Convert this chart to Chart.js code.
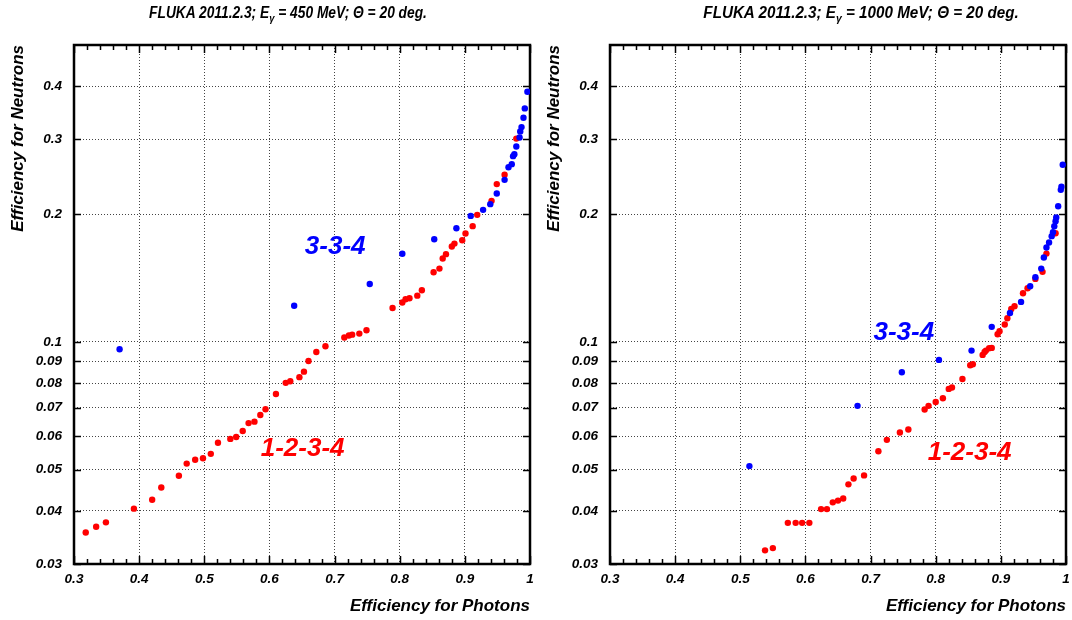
<!DOCTYPE html>
<html>
<head>
<meta charset="utf-8">
<script src="https://cdn.jsdelivr.net/npm/chart.js@4.4.0/dist/chart.umd.min.js"></script>
<style>
  html, body { margin: 0; padding: 0; background: #fff; }
  #wrap { position: relative; width: 1072px; height: 620px; overflow: hidden; }
  .panel { position: absolute; top: 0; width: 536px; height: 620px; }
  .title {
    position: absolute; top: 4px; white-space: nowrap;
    font: italic bold 16px "Liberation Sans", Arial, sans-serif;
    transform: translateX(-50%) scaleX(0.86);
    transform-origin: 50% 50%;
  }
  .title sub { font-size: 11px; vertical-align: -4px; line-height: 0; }
</style>
</head>
<body>
<div id="wrap">
  <div class="panel" style="left:0"><canvas id="chart450" width="536" height="620"></canvas></div>
  <div class="panel" style="left:536px"><canvas id="chart1000" width="536" height="620"></canvas></div>
  <div class="title" style="left:288px">FLUKA 2011.2.3; E<sub>&gamma;</sub> = 450 MeV; &Theta; = 20 deg.</div>
  <div class="title" style="left:861px; transform: translateX(-50%) scaleX(0.95)">FLUKA 2011.2.3; E<sub>&gamma;</sub> = 1000 MeV; &Theta; = 20 deg.</div>
</div>
<script>
// axis ticks
const xTicks = [0.3, 0.4, 0.5, 0.6, 0.7, 0.8, 0.9, 1.0];
const xTickLabels = ['0.3', '0.4', '0.5', '0.6', '0.7', '0.8', '0.9', '1'];
const yTicks = [0.03, 0.04, 0.05, 0.06, 0.07, 0.08, 0.09, 0.1, 0.2, 0.3, 0.4];
const yTickLabels = ['0.03', '0.04', '0.05', '0.06', '0.07', '0.08', '0.09', '0.1', '0.2', '0.3', '0.4'];

// E = 450 MeV, 1-2-3-4 (red)
const photons450_1234 = [0.318,0.334,0.349,0.392,0.420,0.434,0.461,0.473,0.486,0.498,0.510,0.521,0.540,0.549,0.559,0.568,0.577,0.586,0.594,0.610,0.625,0.632,0.646,0.653,0.660,0.672,0.686,0.715,0.722,0.727,0.738,0.749,0.789,0.804,0.809,0.815,0.827,0.834,0.852,0.861,0.866,0.871,0.880,0.884,0.896,0.901,0.912,0.919,0.941,0.949,0.961,0.979];
const neutrons450_1234 = [0.0356,0.0367,0.0376,0.0405,0.0425,0.0454,0.0484,0.0517,0.0528,0.0532,0.0545,0.0579,0.0591,0.0597,0.0617,0.0644,0.0649,0.0673,0.0694,0.0754,0.0801,0.0808,0.0826,0.0851,0.0902,0.0947,0.0977,0.1024,0.1035,0.1040,0.1046,0.1065,0.1202,0.1238,0.1260,0.1267,0.1285,0.1323,0.1459,0.1488,0.1571,0.1609,0.1677,0.1704,0.1735,0.1799,0.1873,0.1991,0.2148,0.2352,0.2474,0.301];

// E = 450 MeV, 3-3-4 (blue)
const photons450_334 = [0.370,0.638,0.754,0.804,0.853,0.887,0.909,0.928,0.939,0.949,0.961,0.967,0.972,0.974,0.976,0.979,0.984,0.985,0.987,0.990,0.992,0.996];
const neutrons450_334 = [0.0961,0.1216,0.1369,0.1612,0.1745,0.1852,0.1980,0.2046,0.2110,0.2235,0.2407,0.2578,0.2621,0.2737,0.2767,0.2884,0.3028,0.3130,0.3204,0.3370,0.3546,0.388];

// E = 1000 MeV, 1-2-3-4 (red)
const photons1000_1234 = [0.538,0.550,0.573,0.585,0.595,0.606,0.624,0.633,0.642,0.650,0.658,0.666,0.674,0.690,0.712,0.725,0.745,0.758,0.783,0.789,0.800,0.811,0.820,0.825,0.841,0.853,0.857,0.872,0.875,0.877,0.882,0.886,0.895,0.898,0.906,0.910,0.916,0.921,0.934,0.941,0.953,0.964,0.970,0.984];
const neutrons1000_1234 = [0.0323,0.0327,0.0375,0.0375,0.0375,0.0375,0.0404,0.0404,0.0419,0.0423,0.0428,0.0462,0.0477,0.0485,0.0553,0.0588,0.0612,0.0622,0.0693,0.0707,0.0722,0.0737,0.0775,0.0781,0.0818,0.0881,0.0886,0.0932,0.0947,0.0954,0.0966,0.0968,0.1042,0.1060,0.1099,0.1137,0.1196,0.1214,0.1302,0.1338,0.1407,0.1462,0.1614,0.1802];

// E = 1000 MeV, 3-3-4 (blue)
const photons1000_334 = [0.514,0.680,0.748,0.805,0.855,0.886,0.914,0.931,0.945,0.953,0.962,0.966,0.970,0.974,0.978,0.980,0.982,0.984,0.985,0.988,0.992,0.993,0.995];
const neutrons1000_334 = [0.0510,0.0707,0.0848,0.0907,0.0954,0.1085,0.1170,0.1242,0.1352,0.1420,0.1488,0.1580,0.1668,0.1714,0.1774,0.1812,0.1873,0.1924,0.1962,0.2087,0.2280,0.2320,0.2612];

// where the configuration names sit (data coords)
const labels450 = [
  { text: '3-3-4', x: 0.701, y: 0.1676, color: '#0000ff' },
  { text: '1-2-3-4', x: 0.651, y: 0.0561, color: '#ff0000' }
];
const labels1000 = [
  { text: '3-3-4', x: 0.751, y: 0.1052, color: '#0000ff' },
  { text: '1-2-3-4', x: 0.852, y: 0.0547, color: '#ff0000' }
];

Chart.defaults.font.family = '"Liberation Sans", Arial, Helvetica, sans-serif';
Chart.defaults.color = '#000';

const tickFont = { size: 13.5, weight: 'bold', style: 'italic' };
const titleFont = { size: 17, weight: 'bold', style: 'italic' };

const toPoints = (xs, ys) => xs.map((x, i) => ({ x: x, y: ys[i] }));

// frame + inward tick marks, gnuplot style
const framePlugin = {
  id: 'frame',
  beforeDatasetsDraw(chart) {
    const { ctx, chartArea: a, scales } = chart;
    ctx.save();
    ctx.strokeStyle = '#000';
    ctx.lineWidth = 1.5;
    ctx.beginPath();
    for (let v = 0.3; v < 1.0001; v += 0.02) {
      const px = Math.round(scales.x.getPixelForValue(v)) + 0.5;
      const major = Math.abs(v * 10 - Math.round(v * 10)) < 1e-6;
      const len = major ? 8 : 5;
      ctx.moveTo(px, a.bottom); ctx.lineTo(px, a.bottom - len);
      ctx.moveTo(px, a.top); ctx.lineTo(px, a.top + len);
    }
    yTicks.forEach(v => {
      const py = Math.round(scales.y.getPixelForValue(v)) + 0.5;
      ctx.moveTo(a.left, py); ctx.lineTo(a.left + 7, py);
      ctx.moveTo(a.right, py); ctx.lineTo(a.right - 7, py);
    });
    ctx.stroke();
    ctx.lineWidth = 2.5;
    ctx.strokeRect(a.left, a.top, a.right - a.left, a.bottom - a.top);
    ctx.restore();
  }
};

const namesPlugin = {
  id: 'names',
  afterDatasetsDraw(chart, args, opts) {
    const { ctx, scales } = chart;
    ctx.save();
    ctx.font = 'italic bold 26px "Liberation Sans", Arial, sans-serif';
    ctx.textAlign = 'center';
    ctx.textBaseline = 'middle';
    opts.items.forEach(l => {
      ctx.fillStyle = l.color;
      ctx.fillText(l.text, scales.x.getPixelForValue(l.x), scales.y.getPixelForValue(l.y));
    });
    ctx.restore();
  }
};

function makePanel(id, redX, redY, blueX, blueY, names) {
  return new Chart(document.getElementById(id), {
    type: 'scatter',
    data: {
      datasets: [
        {
          label: '3-3-4',
          data: toPoints(blueX, blueY),
          backgroundColor: '#0000ff',
          borderWidth: 0,
          pointRadius: 3.2
        },
        {
          label: '1-2-3-4',
          data: toPoints(redX, redY),
          backgroundColor: '#ff0000',
          borderWidth: 0,
          pointRadius: 3.2
        }
      ]
    },
    options: {
      responsive: false,
      animation: false,
      layout: { padding: { top: 45, right: 6, left: 0, bottom: 0 } },
      plugins: {
        legend: { display: false },
        tooltip: { enabled: false },
        names: { items: names }
      },
      scales: {
        x: {
          type: 'linear',
          min: 0.3,
          max: 1.0,
          afterBuildTicks: s => { s.ticks = xTicks.map(v => ({ value: v })); },
          afterFit: s => { s.height = 56; s.paddingLeft = 0; s.paddingRight = 0; },
          ticks: {
            font: tickFont,
            padding: 7,
            maxRotation: 0,
            callback: (v, i) => xTickLabels[i]
          },
          grid: { color: '#444', lineWidth: 1, drawTicks: false },
          border: { display: false, dash: [1, 2] },
          title: {
            display: true,
            text: 'Efficiency for Photons',
            align: 'end',
            font: titleFont,
            padding: { top: 0, bottom: 3 }
          }
        },
        y: {
          type: 'logarithmic',
          min: 0.03,
          max: 0.5,
          afterBuildTicks: s => { s.ticks = yTicks.map(v => ({ value: v })); },
          afterFit: s => { s.width = 74; s.paddingTop = 0; s.paddingBottom = 0; },
          ticks: {
            font: tickFont,
            padding: 12,
            callback: (v, i) => yTickLabels[i]
          },
          grid: { color: '#444', lineWidth: 1, drawTicks: false },
          border: { display: false, dash: [1, 2] },
          title: {
            display: true,
            text: 'Efficiency for Neutrons',
            align: 'end',
            font: titleFont,
            padding: { top: 8, bottom: 0 }
          }
        }
      }
    },
    plugins: [framePlugin, namesPlugin]
  });
}

makePanel('chart450', photons450_1234, neutrons450_1234, photons450_334, neutrons450_334, labels450);
makePanel('chart1000', photons1000_1234, neutrons1000_1234, photons1000_334, neutrons1000_334, labels1000);
</script>
</body>
</html>
